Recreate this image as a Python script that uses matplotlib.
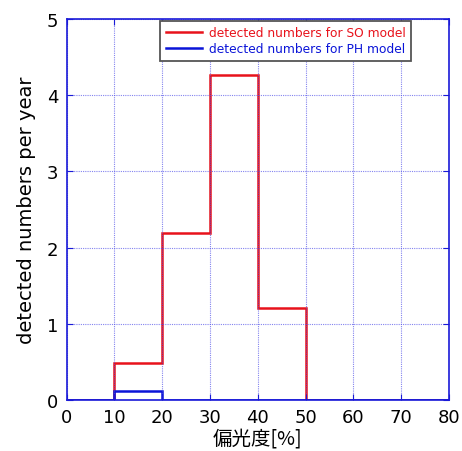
import numpy as np
import matplotlib
matplotlib.use('Agg')
import matplotlib.pyplot as plt

# bin edges (polarisation degree, %) and detected numbers per year
edges = [0, 10, 20, 30, 40, 50, 60, 70, 80]
so_counts = [0, 0.49, 2.19, 4.26, 1.21, 0, 0, 0]
ph_counts = [0, 0.12, 0, 0, 0, 0, 0, 0]
labels = ['detected numbers for SO model', 'detected numbers for PH model']
xticks = [0, 10, 20, 30, 40, 50, 60, 70, 80]
yticks = [0, 1, 2, 3, 4, 5]

plt.rcParams['font.family'] = ['DejaVu Sans', 'Noto Sans CJK JP']

fig = plt.figure(figsize=(4.62, 4.52), dpi=100)
ax = fig.add_axes([0.144, 0.113, 0.828, 0.843])

ax.stairs(so_counts, edges, color='#e8121b', lw=1.8, label=labels[0])
ax.stairs(ph_counts, edges, color='#0a14d8', lw=1.8, label=labels[1])

ax.set_xlim(0, 80)
ax.set_ylim(0, 5)
ax.set_xticks(xticks)
ax.set_yticks(yticks)
ax.grid(True, color='#5050e8', ls=(0, (1, 1)), lw=0.8, alpha=0.7)
ax.tick_params(direction='in', length=4, color='#1a1ad8', labelsize=13,
               top=True, right=True, pad=6)
for s in ax.spines.values():
    s.set_color('#1a1ad8')
    s.set_linewidth(1.2)

ax.set_xlabel('偏光度[%]', fontsize=14, family=['Noto Sans CJK JP'], labelpad=1)
ax.set_ylabel('detected numbers per year', fontsize=14, labelpad=8)

leg = ax.legend(loc='upper left', bbox_to_anchor=(0.245, 0.995), fontsize=8.8,
                fancybox=False, shadow=False, framealpha=1, edgecolor='#555555',
                handlelength=3.0, borderpad=0.45, labelspacing=0.25, handletextpad=0.5,
                borderaxespad=0)
leg.get_frame().set_linewidth(1.3)
for t, c in zip(leg.get_texts(), ['#e8121b', '#0a14d8']):
    t.set_color(c)

fig.savefig('out.png', dpi=100)
